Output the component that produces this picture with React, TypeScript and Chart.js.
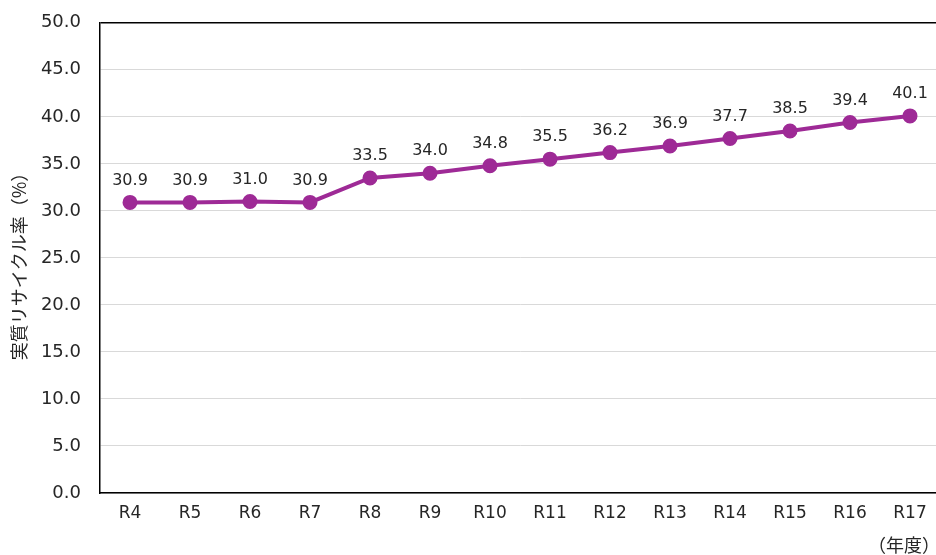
import React, { useEffect, useRef } from "react";
import { Chart, registerables } from "chart.js";

Chart.register(...registerables);

const categories = ["R4", "R5", "R6", "R7", "R8", "R9", "R10", "R11", "R12", "R13", "R14", "R15", "R16", "R17"];
const recycleRate = [30.9, 30.9, 31.0, 30.9, 33.5, 34.0, 34.8, 35.5, 36.2, 36.9, 37.7, 38.5, 39.4, 40.1];
const yTitle = "実質リサイクル率（%）";
const xUnit = "（年度）";

const NUM_FONT = "'DejaVu Sans', 'Noto Sans', sans-serif";
const JP_FONT = "'Noto Sans CJK JP', sans-serif";
const PURPLE = "#9E2A96";
const TEXT = "#262626";
const SHIFT = 7;

const labelPlugin = {
  id: "extras",
  afterDatasetsDraw(chart: any) {
    const ctx = chart.ctx;
    const meta = chart.getDatasetMeta(0);
    ctx.save();
    ctx.fillStyle = TEXT;
    ctx.font = `16px ${NUM_FONT}`;
    ctx.textAlign = "center";
    ctx.textBaseline = "middle";
    meta.data.forEach((pt: any, i: number) => {
      ctx.fillText(recycleRate[i].toFixed(1), pt.x, pt.y - 22);
    });
    ctx.font = `18px ${JP_FONT}`;
    ctx.save();
    ctx.translate(19, 262 + SHIFT);
    ctx.rotate(-Math.PI / 2);
    ctx.fillText(yTitle, 0, 0);
    ctx.restore();
    ctx.font = `18px ${JP_FONT}`;
    ctx.textAlign = "right";
    ctx.fillText(xUnit, 940, 545 + SHIFT);
    ctx.restore();
  },
};

export default function App() {
  const ref = useRef<HTMLCanvasElement>(null);
  useEffect(() => {
    if (!ref.current) return;
    const chart = new Chart(ref.current, {
      type: "line",
      data: {
        labels: categories,
        datasets: [
          {
            data: recycleRate,
            borderColor: PURPLE,
            backgroundColor: PURPLE,
            borderWidth: 4,
            pointRadius: 5.5,
            pointBackgroundColor: PURPLE,
            pointBorderColor: PURPLE,
            tension: 0,
          },
        ],
      },
      options: {
        responsive: false,
        animation: false,
        layout: { padding: { top: 12, right: 10, left: 0, bottom: 0 } },
        plugins: { legend: { display: false }, tooltip: { enabled: false } },
        scales: {
          x: {
            offset: true,
            grid: { display: false, drawTicks: false },
            border: { color: "#000", width: 1.5 },
            ticks: { color: TEXT, font: { family: NUM_FONT, size: 17 }, padding: 10, maxRotation: 0 },
            afterFit: (s: any) => { s.height = 62; },
          },
          y: {
            min: 0,
            max: 50,
            ticks: {
              stepSize: 5,
              color: TEXT,
              font: { family: NUM_FONT, size: 18 },
              padding: 19,
              callback: (v: any) => Number(v).toFixed(1),
            },
            grid: {
              drawTicks: false,
              color: (c: any) => (c.tick && c.tick.value === 50 ? "#000" : "#d9d9d9"),
              lineWidth: (c: any) => (c.tick && c.tick.value === 50 ? 1.5 : 1),
            },
            border: { color: "#000", width: 1.5 },
            afterFit: (s: any) => { s.width = 100; },
          },
        },
      },
      plugins: [labelPlugin],
    });
    return () => chart.destroy();
  }, []);
  return (
    <div style={{ position: "fixed", left: 0, top: 0, width: 936, height: 555, overflow: "hidden", background: "#fff" }}>
      <canvas
        ref={ref}
        width={950}
        height={555 + SHIFT}
        style={{ display: "block", position: "absolute", left: 0, top: -SHIFT }}
      />
    </div>
  );
}
